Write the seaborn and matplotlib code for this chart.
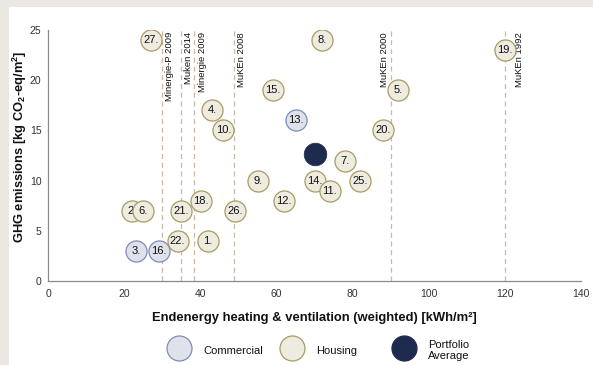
import matplotlib
matplotlib.use("Agg")
import matplotlib.pyplot as plt
from matplotlib.lines import Line2D
from matplotlib.patches import Rectangle
import seaborn as sns
import pandas as pd

# Buildings: id label, final energy (kWh/m2), GHG emissions (kg CO2-eq/m2), use type
building_ids = [1, 2, 3, 4, 5, 6, 7, 8, 9, 10, 12, 13, 14, 11, 15, 16,
                18, 19, 20, 21, 22, 25, 26, 27]
energy = [42, 22, 23, 43, 92, 25, 78, 72, 55, 46, 62, 65, 70, 74, 59, 29,
          40, 120, 88, 35, 34, 82, 49, 27]
emissions = [4, 7, 3, 17, 19, 7, 12, 24, 10, 15, 8, 16, 10, 9, 19, 3,
             8, 23, 15, 7, 4, 10, 7, 24]
use_type = ["Housing", "Housing", "Commercial", "Housing", "Housing", "Housing",
            "Housing", "Housing", "Housing", "Housing", "Housing", "Commercial",
            "Housing", "Housing", "Housing", "Commercial", "Housing", "Housing",
            "Housing", "Housing", "Housing", "Housing", "Housing", "Housing"]

# Portfolio average
avg_energy = [70]
avg_emissions = [12.6]

# Regulatory standards (reference lines)
standard_names = ["Minergie-P 2009", "Muken 2014", "Minergie 2009", "MuKEn 2008",
                  "MuKEn 2000", "MuKEn 1992"]
standard_values = [30, 35, 38.3, 48.8, 90, 120]

x_ticks = [0, 20, 40, 60, 80, 100, 120, 140]
y_ticks = [0, 5, 10, 15, 20, 25]

df = pd.DataFrame({"id": building_ids, "energy": energy,
                   "emissions": emissions, "use": use_type})
avg_df = pd.DataFrame({"energy": avg_energy, "emissions": avg_emissions})

styles = {
    "Commercial": {"fill": "#dfe2eb", "edge": "#7d8db5"},
    "Housing": {"fill": "#eeece1", "edge": "#a99b62"},
}
navy = "#1f2a4f"
bg = "#ebe8e2"

sns.set_theme(style="white")
plt.rcParams["font.family"] = ["Liberation Sans", "DejaVu Sans"]
plt.rcParams["mathtext.default"] = "regular"

W, H = 593, 365
fig = plt.figure(figsize=(W / 100, H / 100), dpi=100)
fig.patch.set_facecolor(bg)
fig.patches.append(Rectangle((9 / W, 0), 1, 1 - 7 / H, transform=fig.transFigure,
                             facecolor="white", edgecolor="none", zorder=-5))

ax = fig.add_axes([48.3 / W, 1 - 281 / H, (581 - 48.3) / W, (281 - 30) / H])
ax.set_facecolor("none")
ax.set_zorder(2)

# Reference lines with rotated labels
label_offsets = [3, 3, 4, 3, -11, 10]
for name, val, off in zip(standard_names, standard_values, label_offsets):
    ax.plot([val, val], [0, 25], color="#c9b9aa", lw=0.9, ls=(0, (4, 3)), zorder=1)
    ax.annotate(name, xy=(val, 24.8), xycoords="data", xytext=(off * 0.72, 0),
                textcoords="offset points", rotation=90, ha="left", va="top",
                fontsize=6.8, color="#111111", zorder=2)

# Building circles, drawn one at a time so later ones overlap earlier ones
for i, row in df.iterrows():
    st = styles[row["use"]]
    sns.scatterplot(data=df.iloc[[i]], x="energy", y="emissions", ax=ax,
                    s=230, color=st["fill"], edgecolor=st["edge"], linewidth=0.9,
                    zorder=3 + i * 0.01, legend=False)
    ax.text(row["energy"], row["emissions"], f"{row['id']}.", ha="center",
            va="center", fontsize=8, color="#111111", zorder=3 + i * 0.01 + 0.005)

sns.scatterplot(data=avg_df, x="energy", y="emissions", ax=ax, s=265,
                color=navy, edgecolor=navy, linewidth=0.5, zorder=4, legend=False)

ax.set_xlim(0, 140)
ax.set_ylim(0, 25)
ax.set_xticks(x_ticks)
ax.set_yticks(y_ticks)
ax.tick_params(axis="both", labelsize=7.5, labelcolor="#333333", length=3,
               width=0.8, color="#888888", direction="out", pad=2)
ax.tick_params(axis="x", pad=3)
for side in ["top", "right"]:
    ax.spines[side].set_visible(False)
for side in ["left", "bottom"]:
    ax.spines[side].set_color("#8a8a8a")
    ax.spines[side].set_linewidth(0.9)

ax.set_xlabel("Endenergy heating & ventilation (weighted) [kWh/m²]",
              fontsize=9.4, fontweight="bold", color="#111111", labelpad=9)
ax.set_ylabel("GHG emissions [kg CO$_2$-eq/m$^2$]", fontsize=9.3,
              fontweight="bold", color="#111111")
ax.yaxis.set_label_coords(-0.037, 0.535)

# Legend items placed along the bottom of the panel
legend_items = [
    ("Commercial", styles["Commercial"]["fill"], styles["Commercial"]["edge"], 179.3, 203),
    ("Housing", styles["Housing"]["fill"], styles["Housing"]["edge"], 292, 316),
    ("Portfolio\nAverage", navy, navy, 404.3, 428),
]
for label, fc, ec, cx, tx in legend_items:
    fig.add_artist(Line2D([cx / W], [1 - 348 / H], transform=fig.transFigure,
                          ls="none", marker="o", markersize=18,
                          markerfacecolor=fc, markeredgecolor=ec,
                          markeredgewidth=0.9))
    fig.text(tx / W, 1 - 350.5 / H, label, ha="left", va="center",
             fontsize=8, color="#111111", linespacing=1.15)

fig.savefig("out.png", dpi=100, facecolor=bg)
